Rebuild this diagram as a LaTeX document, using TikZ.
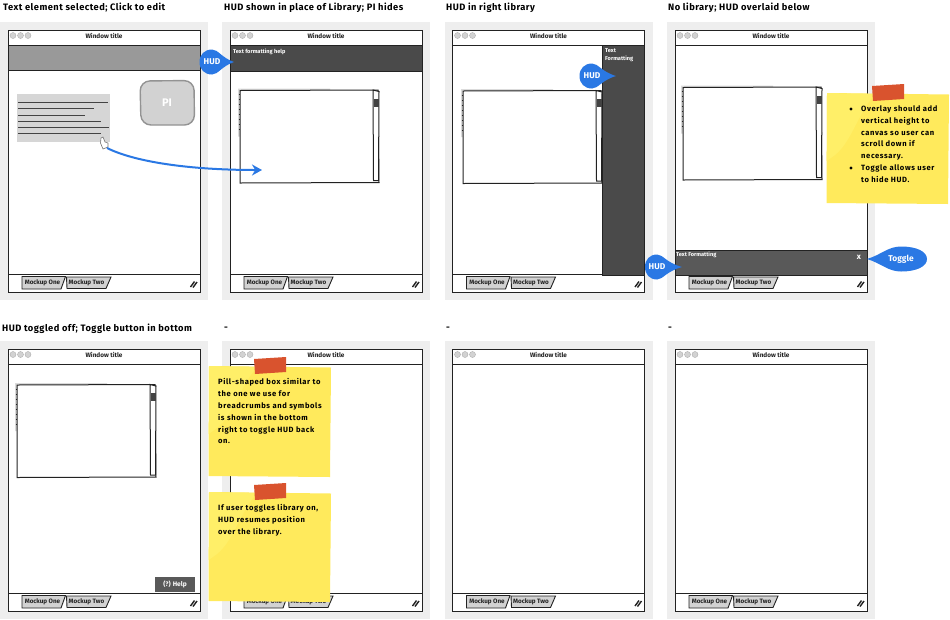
\documentclass[tikz,border=0pt]{standalone}
\usepackage{fontspec}
\setmainfont{Fira Sans}
\usetikzlibrary{arrows.meta}
\definecolor{panelbg}{HTML}{EEEEEE}
\definecolor{ink}{HTML}{222222}
\definecolor{hudblue}{HTML}{2A78E4}
\definecolor{darkhud}{HTML}{4A4A4A}
\definecolor{midhud}{HTML}{595959}
\definecolor{bandgray}{HTML}{999999}
\definecolor{lightgray2}{HTML}{D2D2D2}
\definecolor{notey}{HTML}{FFEA5C}
\definecolor{noteyl}{HTML}{FFEF68}
\definecolor{tape}{HTML}{D9532E}
\tikzset{
  x=1pt,y=-1pt,
  panel/.style={fill=panelbg,draw=none},
  frameline/.style={draw=ink,line width=1pt,fill=white},
  heading/.style={anchor=west,inner sep=0pt,font=\fontsize{9.3}{11}\selectfont\bfseries\addfontfeatures{LetterSpace=5},text=black},
  wintitle/.style={inner sep=0pt,font=\fontsize{6.4}{8}\selectfont\bfseries,text=ink},
  tabtext/.style={inner sep=0pt,font=\fontsize{6.3}{8}\selectfont\bfseries,text=ink},
  hudtext/.style={anchor=west,inner sep=0pt,font=\fontsize{5.6}{8}\selectfont\bfseries,text=white},
  calltext/.style={inner sep=0pt,font=\fontsize{8.4}{10}\selectfont\bfseries,text=white},
  notetext/.style={anchor=north west,inner sep=0pt,align=left,font=\fontsize{7.6}{11.8}\selectfont\bfseries\addfontfeatures{LetterSpace=8},text=black},
  textrule/.style={draw=ink!85,line width=1pt},
}
% window frame: name, panel x, panel y
\newcommand\wframe[3]{%
  \begin{scope}[shift={(#2,#3)}]
    \fill[panel] (0,0) rectangle (208,278);
    \draw[frameline] (8,23) rectangle (200,270);
    \draw[frameline] (8,8) rectangle (200,23);
    \foreach \dx in {13,20.5,28}{\fill[lightgray2,draw=gray!70,line width=.3pt] (\dx,13.5) circle (3);}
    \node[wintitle] (#1title) at (104,13.5) {Window title};
    \draw[frameline] (8,252.5) rectangle (200,270);
    \draw[ink,line width=.9pt,fill=lightgray2] (22,254.5) -- (65.5,254.5) -- (61,267) -- (22,267) -- cycle;
    \draw[ink,line width=.9pt,fill=lightgray2] (66.5,255) -- (111,255) -- (106,266.5) -- (67,266.5) -- cycle;
    \node[tabtext] (#1tabA) at (42.5,261) {Mockup One};
    \node[tabtext] (#1tabB) at (86.5,261) {Mockup Two};
    \draw[ink,line width=1.4pt] (190.5,265) -- (194.5,259.5) (193,265.5) -- (197,260);
  \end{scope}}
% document box on the canvas: name, x, y (top left)
\newcommand\docbox[3]{%
  \begin{scope}[shift={(#2,#3)}]
    \fill[lightgray2!80] (-2,-2) rectangle (90,1) (-2,-2) rectangle (1,46);
    \foreach \ty in {4,9,14,19,24,29,34,39}{\draw[ink,line width=.5pt] (-1.5,\ty) -- (1,\ty);}
    \draw[frameline] (0,0) -- (138,-.5) -- (139,92) -- (0,92.5) -- cycle;
    \draw[frameline] (133,-.5) -- (139,1) -- (138.5,90) -- (133.5,90) -- cycle;
    \fill[ink!85] (133.5,8) rectangle (138.5,16);
    \coordinate (#1) at (69,46);
  \end{scope}}
% callout: name, cx, cy, signed rx, ry, signed tip distance, text
\newcommand\callout[7]{%
  \fill[hudblue] ({#2+#6},#3)
    .. controls ({#2+.75*#4},{#3-.35*#5}) and ({#2+.5*#4},{#3-#5}) .. ({#2},{#3-#5})
    .. controls ({#2-.6*#4},{#3-#5}) and ({#2-#4},{#3-.6*#5}) .. ({#2-#4},#3)
    .. controls ({#2-#4},{#3+.6*#5}) and ({#2-.6*#4},{#3+#5}) .. ({#2},{#3+#5})
    .. controls ({#2+.5*#4},{#3+#5}) and ({#2+.75*#4},{#3+.35*#5}) .. ({#2+#6},#3) -- cycle;
  \node[calltext] (#1) at (#2,#3) {#7};}
% sticky note: x1, y1, x2, y2, tape x
\newcommand\sticky[5]{%
  \fill[notey] (#1,#2) -- (#3,{#2+1.5}) -- ({#3-1},{#4+1}) -- ({#1-.5},#4) -- cycle;
  \fill[noteyl] (#1,#2) -- ({#1+48},{#2+1}) .. controls ({#1+30},{#2+22}) and ({#1+25},{#2+48}) .. ({#1+8},{#2+62}) -- ({#1-.3},{#2+68}) -- cycle;
  \fill[tape] (#5,{#2-7}) -- ({#5+32},{#2-9}) -- ({#5+32},{#2+6}) -- ({#5+1},{#2+8}) -- cycle;}
\begin{document}
\begin{tikzpicture}
\useasboundingbox (0,0) rectangle (950,619);
% headings
\node[heading] (h1) at (3,8) {Text element selected; Click to edit};
\node[heading] (h2) at (224,8) {HUD shown in place of Library; PI hides};
\node[heading] (h3) at (446,8) {HUD in right library};
\node[heading] (h4) at (668,8) {No library; HUD overlaid below};
\node[heading] (h5) at (2,329) {HUD toggled off; Toggle button in bottom};
\node[heading] (h6) at (224,329) {-};
\node[heading] (h7) at (446,329) {-};
\node[heading] (h8) at (668,329) {-};
% frames
\wframe{a}{0}{22}
\wframe{b}{222}{22}
\wframe{c}{444.5}{22}
\wframe{d}{667}{22}
\wframe{e}{0}{341}
\wframe{f}{222}{341}
\wframe{g}{444.5}{341}
\wframe{k}{667}{341}
% frame a
\draw[frameline,fill=bandgray] (8,45) rectangle (200,70);
\draw[draw=gray!85,line width=1.4pt,fill=lightgray2,rounded corners=10pt] (140,81) -- (194,80.5) -- (194.5,125) -- (141,125) -- cycle;
\node[calltext,font=\fontsize{11}{12}\selectfont\bfseries] (pi) at (167,102.5) {PI};
\fill[lightgray2!90] (17,94) rectangle (110,142);
\foreach \ly/\lx in {102/108,108.5/94,115/85,121.5/101,127.5/109,133.5/101}{\draw[textrule] (18,\ly) -- (\lx,\ly);}
\draw[gray!90!black,fill=white,line width=.6pt] (101,138) -- (103,137) -- (105,142) -- (108,143) -- (108,147) -- (103,149) -- (100.5,143) -- cycle;
% frame b
\draw[frameline,fill=darkhud] (230,45) rectangle (422,71);
\node[hudtext] (bhud) at (233,51.5) {Text formatting help};
\docbox{bdoc}{240}{90.5}
% frame c
\docbox{cdoc}{463}{91}
\fill[darkhud] (602,45) rectangle (644,275);
\draw[ink,line width=1pt] (602,45) -- (644,45) -- (644,275) -- (602,275) -- cycle;
\node[hudtext,align=left,font=\fontsize{5.6}{8.5}\selectfont\bfseries,anchor=north west] (chud) at (605,48) {Text\\Formatting};
% frame d
\docbox{ddoc}{683}{87.5}
\draw[frameline,fill=midhud] (675,250) rectangle (867,275);
\node[hudtext] (dhud) at (676,255) {Text Formatting};
\node[calltext,font=\fontsize{8}{9}\selectfont\bfseries] (dx) at (859,257) {x};
% frame e
\docbox{edoc}{17}{385}
\fill[midhud] (155,577) rectangle (195,592);
\node[calltext,font=\fontsize{6.6}{8}\selectfont\bfseries] (help) at (175,584.5) {(?) Help};
% connector from the cursor to the document box
\coordinate (cursor) at (107,148);
\coordinate (target) at (262,170);
\draw[hudblue,line width=2pt,-{Stealth[length=10pt,width=11pt]}] (cursor) .. controls (135,162) and (190,170) .. (target);
% callouts
\callout{c1}{212}{62}{12.5}{12.5}{22}{HUD}
\callout{c2}{592}{76}{12.5}{12.5}{24}{HUD}
\callout{c3}{657}{267}{12}{12.5}{25}{HUD}
\callout{c4}{901}{259}{-26}{12.5}{-34}{Toggle}
% notes
\sticky{827}{93}{949}{203}{872}
\fill[black] (851,109) circle (1.6) (851,168) circle (1.6);
\node[notetext] (n1) at (861,105.5) {Overlay should add\\vertical height to\\canvas so user can\\scroll down if\\necessary.\\Toggle allows user\\to hide HUD.};
\sticky{209}{366}{331}{476}{254}
\node[notetext] (n2) at (218,378.5) {Pill-shaped box similar to\\the one we use for\\breadcrumbs and symbols\\is shown in the bottom\\right to toggle HUD back\\on.};
\sticky{209}{492}{331}{601}{254}
\node[notetext] (n3) at (218,504.5) {If user toggles library on,\\HUD resumes position\\over the library.};
\end{tikzpicture}
\end{document}
